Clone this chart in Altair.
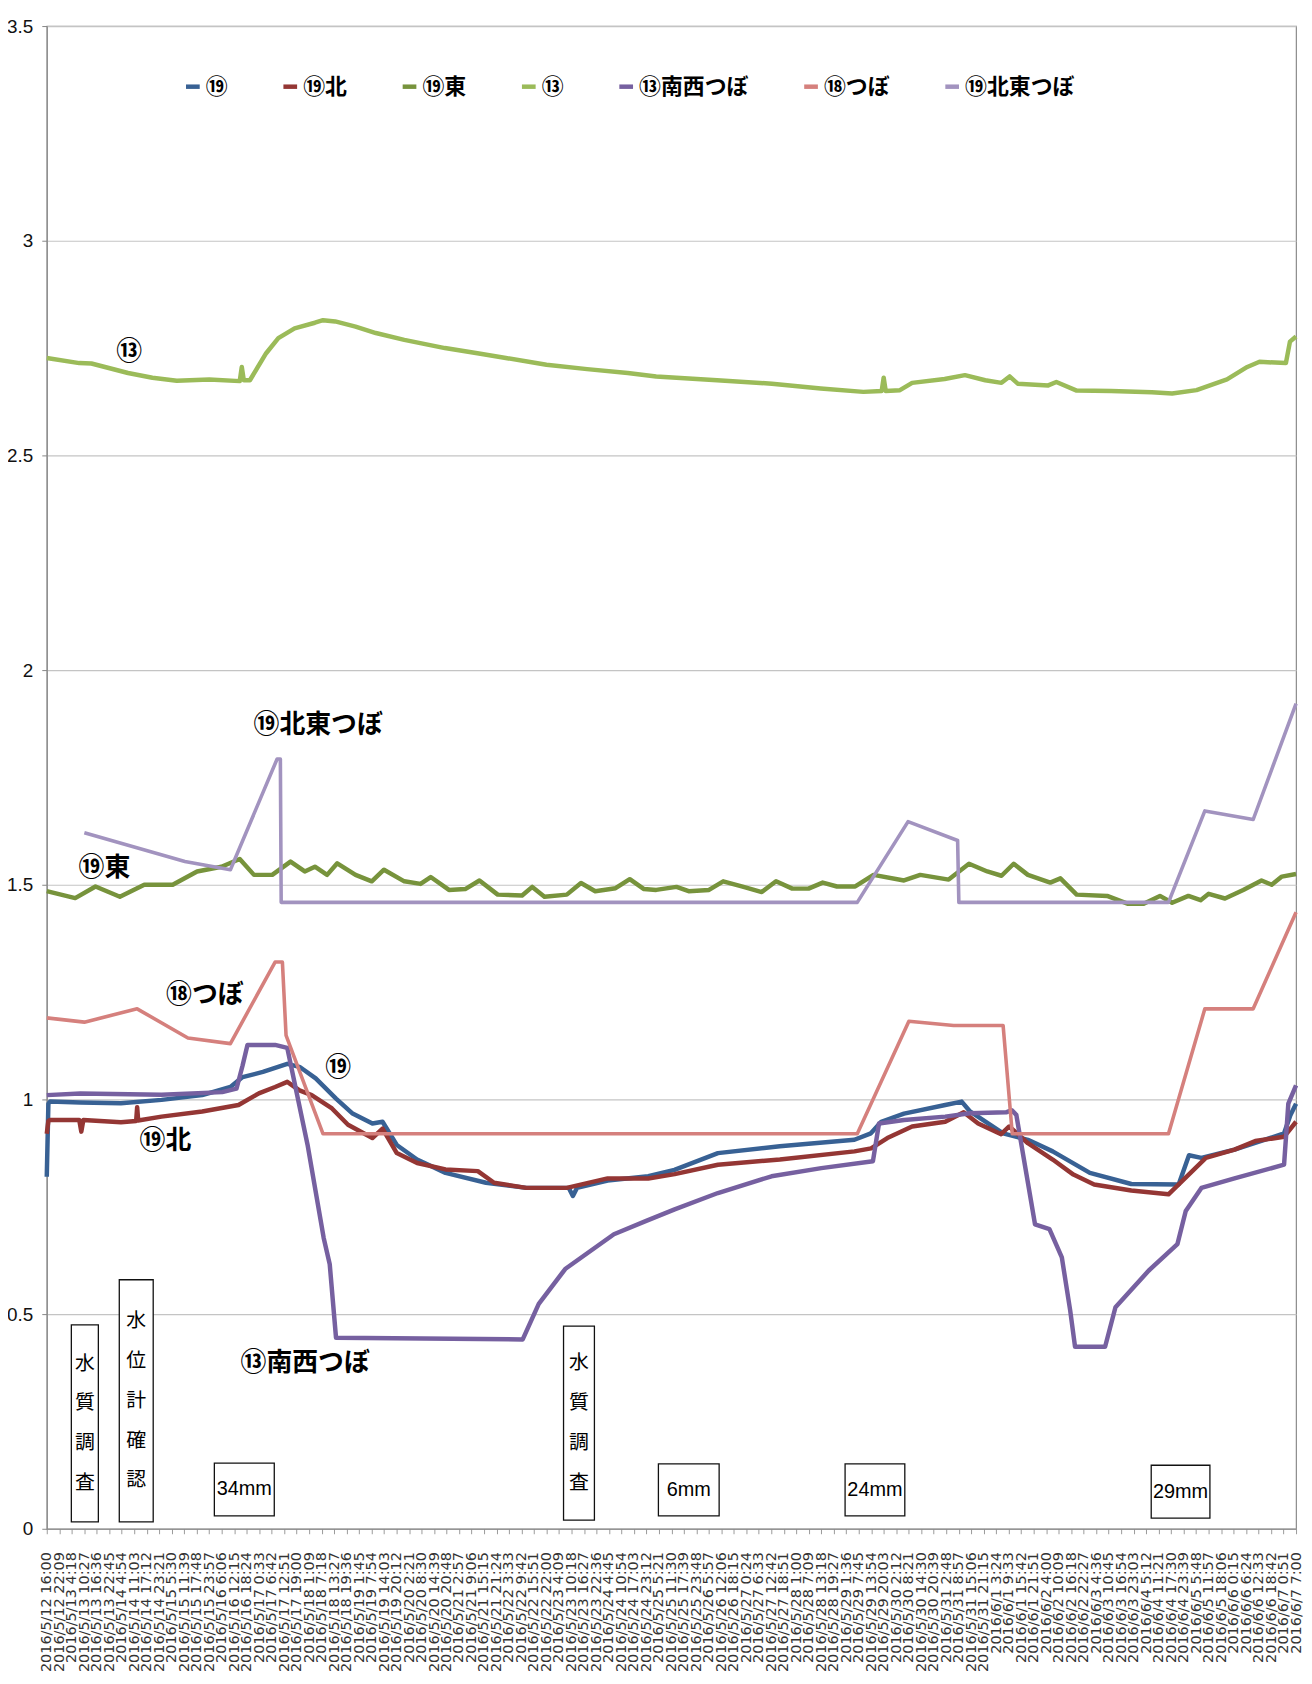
import altair as alt
import pandas as pd

# ---------------- time axis ----------------
START = "2016-05-12 16:00"      # first category label
END_HOURS = 615                 # 2016/6/7 7:00
TICK_STEP_MIN = 369             # labels every 6:09
TICK_COUNT = 101

SERIES = ["⑲", "⑲北", "⑲東", "⑬", "⑬南西つぼ", "⑱つぼ", "⑲北東つぼ"]
COLORS = ["#386194", "#943634", "#77933C", "#9BBB59", "#7660A0", "#D5807D", "#A293BF"]

# (hours since 2016/5/12 16:00, level)
S19 = [(0, 0.82), (0.8, 0.99), (1.6, 0.995), (16.5, 0.993), (36.5, 0.991), (56.5, 0.999),
       (76.5, 1.010), (90.4, 1.029), (96.4, 1.052), (106.4, 1.064), (118.4, 1.083),
       (124.4, 1.076), (132.4, 1.049), (142.4, 1.002), (150.3, 0.968), (160.3, 0.944),
       (165.3, 0.948), (172.3, 0.894), (182.3, 0.860), (196.3, 0.829), (216.2, 0.806),
       (236.2, 0.794), (257, 0.794), (259, 0.775), (261, 0.794), (276.1, 0.811),
       (296.1, 0.821), (309, 0.836), (330.4, 0.875), (360.9, 0.891), (397.6, 0.906),
       (405.7, 0.921), (410.8, 0.948), (422, 0.967), (442.3, 0.987), (450.4, 0.995),
       (454.5, 0.972), (470.8, 0.921), (483, 0.906), (495.2, 0.879), (513.5, 0.829),
       (533.9, 0.803), (557.2, 0.802), (562.3, 0.870), (568.4, 0.864), (584.7, 0.883),
       (609.1, 0.921), (612.2, 0.963), (615, 0.99)]

S19N = [(0, 0.92), (0.8, 0.95), (1.6, 0.952), (16, 0.952), (17, 0.925), (18, 0.952),
        (36.5, 0.947), (44, 0.950), (44.5, 0.982), (45, 0.951), (56.5, 0.960), (76.5, 0.972),
        (94.4, 0.987), (104.4, 1.014), (112.4, 1.029), (118.4, 1.041), (124.4, 1.021),
        (130.4, 1.010), (140.4, 0.979), (148.3, 0.941), (160.3, 0.910), (165.3, 0.932),
        (172.3, 0.875), (182.3, 0.852), (196.3, 0.837), (212.2, 0.833), (220.2, 0.806),
        (236, 0.794), (256, 0.794), (276.1, 0.816), (296.1, 0.816), (309.1, 0.826),
        (330.4, 0.848), (360.9, 0.860), (397.6, 0.879), (405.8, 0.886), (413.8, 0.910),
        (426, 0.937), (442.3, 0.948), (451.4, 0.970), (458.5, 0.944), (469.8, 0.919),
        (473.8, 0.937), (483, 0.898), (495.2, 0.860), (505.4, 0.825), (515.6, 0.802),
        (533.9, 0.788), (552.2, 0.779), (570.6, 0.864), (584.7, 0.883), (594.9, 0.903),
        (609.1, 0.913), (615, 0.948)]

S19E = [(0, 1.485), (14, 1.469), (24, 1.496), (36, 1.472), (48, 1.500), (62, 1.500),
        (74, 1.531), (86, 1.542), (95, 1.560), (102, 1.523), (111, 1.523), (120, 1.554),
        (127, 1.531), (132, 1.542), (138, 1.523), (143, 1.550), (152, 1.523), (160, 1.508),
        (166, 1.535), (176, 1.508), (184, 1.502), (189, 1.518), (198, 1.488), (206, 1.490),
        (213, 1.510), (222, 1.477), (234, 1.475), (239, 1.495), (245, 1.472), (256, 1.477),
        (263, 1.504), (270, 1.485), (280, 1.492), (287, 1.513), (294, 1.490), (300, 1.488),
        (310, 1.495), (316, 1.485), (326, 1.488), (333, 1.508), (343, 1.495), (352, 1.483),
        (359, 1.508), (367, 1.491), (375, 1.491), (382, 1.505), (389, 1.496), (398, 1.496),
        (407, 1.523), (422, 1.510), (430, 1.523), (444, 1.512), (454, 1.549), (463, 1.531),
        (470, 1.521), (476, 1.549), (483, 1.523), (494, 1.505), (499, 1.515), (507, 1.477),
        (522, 1.474), (532, 1.456), (540, 1.456), (548, 1.474), (554, 1.458), (562, 1.474),
        (568, 1.464), (572, 1.479), (580, 1.468), (589, 1.488), (598, 1.510), (603, 1.500),
        (608, 1.519), (615, 1.525)]

S13 = [(0, 2.727), (16, 2.715), (22, 2.714), (40, 2.692), (52, 2.681), (64, 2.674),
       (80, 2.677), (95, 2.673), (96, 2.706), (97, 2.675), (100, 2.675), (108, 2.738),
       (114, 2.773), (122, 2.796), (132, 2.809), (136, 2.815), (142, 2.812), (152, 2.800),
       (162, 2.785), (176, 2.769), (196, 2.750), (212, 2.738), (226, 2.727), (246, 2.711),
       (266, 2.701), (286, 2.692), (300, 2.684), (330, 2.675), (357, 2.667), (381, 2.656),
       (402, 2.648), (411, 2.650), (412, 2.681), (413, 2.650), (420, 2.652), (426, 2.669),
       (442, 2.678), (452, 2.687), (462, 2.675), (470, 2.669), (474, 2.684), (478, 2.667),
       (493, 2.663), (497, 2.671), (507, 2.651), (524, 2.650), (544, 2.647), (554, 2.644),
       (566, 2.652), (581, 2.677), (591, 2.706), (597, 2.718), (610, 2.715), (612, 2.765),
       (615, 2.777)]

S13SW = [(0, 1.010), (16.5, 1.014), (56.5, 1.011), (86.4, 1.017), (93.4, 1.025),
         (96.4, 1.079), (98.8, 1.127), (112.4, 1.127), (118.4, 1.120), (128.4, 0.894),
         (136.3, 0.678), (139.3, 0.616), (142.4, 0.445), (234.3, 0.441), (242.2, 0.524),
         (255.2, 0.605), (279.2, 0.686), (295.1, 0.717), (309.1, 0.744), (330.4, 0.782),
         (356.8, 0.821), (381.3, 0.840), (406.7, 0.856), (409.7, 0.944), (422, 0.952),
         (442.3, 0.960), (454.5, 0.968), (472.3, 0.970), (475, 0.975), (477.3, 0.964),
         (486.5, 0.709), (493.6, 0.698), (499.7, 0.632), (503.8, 0.509), (506.2, 0.424),
         (521, 0.424), (526.1, 0.516), (542.4, 0.601), (556.6, 0.663), (560.7, 0.740),
         (568.4, 0.794), (584.7, 0.816), (609.1, 0.848), (611.2, 0.990), (615, 1.033)]

S18T = [(0, 1.190), (18.5, 1.180), (44.5, 1.211), (69.5, 1.143), (90.4, 1.130),
        (112.4, 1.320), (116, 1.320), (117.8, 1.149), (136, 0.920), (399, 0.920),
        (424.4, 1.182), (446.4, 1.172), (470.8, 1.172), (475.3, 0.920), (552.2, 0.920),
        (570.1, 1.211), (593.9, 1.211), (615, 1.436)]

S19NE = [(18.5, 1.621), (68, 1.554), (90.4, 1.535), (113.4, 1.793), (115, 1.793),
         (115.4, 1.459), (399, 1.459), (424, 1.647), (448.4, 1.603), (449, 1.459),
         (552.2, 1.459), (570.1, 1.672), (593.9, 1.652), (615, 1.922)]

# in-plot series labels: (hours, level, text)
LABELS = [(40.6, 2.741, "⑬"), (28.4, 1.540, "⑲東"), (133.6, 1.871, "⑲北東つぼ"),
          (77.8, 1.243, "⑱つぼ"), (143.5, 1.074, "⑲"), (58.4, 0.902, "⑲北"),
          (127.2, 0.385, "⑬南西つぼ")]

# event boxes: (hours from, hours to, level low, level high, text)
BOXES = [(12.1, 25.4, 0.016, 0.475, "水\n質\n調\n査"),
         (35.7, 52.4, 0.016, 0.580, "水\n位\n計\n確\n認"),
         (82.5, 112.0, 0.030, 0.153, "34mm"),
         (254.4, 269.6, 0.020, 0.472, "水\n質\n調\n査"),
         (301.1, 331.0, 0.030, 0.151, "6mm"),
         (393.0, 422.4, 0.030, 0.151, "24mm"),
         (543.7, 572.6, 0.025, 0.148, "29mm")]

# ---------------- build tables ----------------
START_MS = int(pd.Timestamp(START, tz="UTC").value // 10**6)
HOUR_MS = 3600 * 1000


def ms(h):
    return START_MS + h * HOUR_MS


tick_values = [START_MS + i * TICK_STEP_MIN * 60 * 1000 for i in range(TICK_COUNT)]

dense = {"⑲": S19, "⑲北": S19N, "⑲東": S19E, "⑬": S13, "⑬南西つぼ": S13SW}
sparse = {"⑱つぼ": S18T, "⑲北東つぼ": S19NE}


def table(d):
    rows = []
    for name, pts in d.items():
        for h, v in pts:
            rows.append({"t": ms(h), "v": v, "s": name})
    return pd.DataFrame(rows)


df_dense = table(dense)
df_sparse = table(sparse)
df_labels = pd.DataFrame([{"t": ms(h), "v": v, "txt": t} for h, v, t in LABELS])
df_boxes = pd.DataFrame([{"t1": ms(a), "t2": ms(b), "v1": lo, "v2": hi,
                          "tm": ms((a + b) / 2), "vm": (lo + hi) / 2, "txt": t,
                          "n": t.count("\n") + 1} for a, b, lo, hi, t in BOXES])

x_scale = alt.Scale(type="utc", domain=[START_MS, ms(END_HOURS)], nice=False)
y_scale = alt.Scale(domain=[0, 3.5], nice=False)
color_scale = alt.Scale(domain=SERIES, range=COLORS)

x_axis = alt.Axis(values=tick_values, tickCount=TICK_COUNT,
                  labelExpr="utcFormat(datum.value, '%Y/%-m/%-d %-H:%M')",
                  labelAngle=-90, labelFont="DejaVu Sans", labelFontSize=14.5,
                  labelColor="#333333", labelPadding=18, labelOverlap=False,
                  labelFlush=False, labelBound=False, grid=False, title=None,
                  domainColor="#868686", tickColor="#9A9A9A", tickSize=5)
y_axis = alt.Axis(values=[0, 0.5, 1, 1.5, 2, 2.5, 3, 3.5], tickCount=8, format="~g",
                  labelFont="Liberation Sans", labelFontSize=19,
                  labelColor="#111111", labelPadding=9, grid=True,
                  gridColor="#C4C4C4", gridWidth=1.2, title=None,
                  domainColor="#868686", tickColor="#868686", tickSize=5)

legend = alt.Legend(orient="none", legendX=136, legendY=50, direction="horizontal",
                    columns=7, title=None, symbolType="stroke", symbolSize=190,
                    symbolStrokeWidth=4.5, labelFont="Noto Sans CJK JP",
                    labelFontSize=22, labelFontWeight="bold", labelColor="#000000",
                    columnPadding=46, labelOffset=2, padding=0, labelLimit=300)

X = alt.X("t:T", scale=x_scale, axis=x_axis)
Y = alt.Y("v:Q", scale=y_scale, axis=y_axis)

lines_dense = alt.Chart(df_dense).mark_line(strokeWidth=4.5, strokeJoin="round").encode(
    x=X, y=Y, color=alt.Color("s:N", scale=color_scale, legend=legend, sort=SERIES))
lines_sparse = alt.Chart(df_sparse).mark_line(strokeWidth=3.6, strokeJoin="round").encode(
    x=X, y=Y, color=alt.Color("s:N", scale=color_scale, legend=legend, sort=SERIES))

boxes = alt.Chart(df_boxes).mark_rect(fill="white", stroke="#111111", strokeWidth=1.3).encode(
    x=alt.X("t1:T", scale=x_scale), x2="t2:T",
    y=alt.Y("v1:Q", scale=y_scale), y2="v2:Q")


def vertical_text(n):
    # multi-line vertical text, block centred on the box
    return alt.Chart(df_boxes).transform_filter(f"datum.n == {n}").mark_text(
        font="Noto Sans CJK JP", fontSize=20, lineHeight=40, lineBreak="\n",
        align="center", baseline="middle", dy=-(n - 1) * 20, color="#000000").encode(
        x=alt.X("tm:T", scale=x_scale), y=alt.Y("vm:Q", scale=y_scale), text="txt:N")


box_text_h = alt.Chart(df_boxes).transform_filter("datum.n == 1").mark_text(
    font="Liberation Sans", fontSize=20, align="center", baseline="middle",
    color="#000000").encode(
    x=alt.X("tm:T", scale=x_scale), y=alt.Y("vm:Q", scale=y_scale), text="txt:N")

labels = alt.Chart(df_labels).mark_text(
    font="Noto Sans CJK JP", fontSize=26, fontWeight="bold", align="center",
    baseline="middle", color="#000000").encode(
    x=alt.X("t:T", scale=x_scale), y=alt.Y("v:Q", scale=y_scale), text="txt:N")

chart = alt.layer(lines_dense, lines_sparse, boxes, vertical_text(4), vertical_text(5),
                  box_text_h, labels).properties(
    width=1257, height=1512,
    autosize=alt.AutoSizeParams(type="none"),
    padding={"left": 39, "top": 13, "right": 8, "bottom": 150},
).configure_view(stroke="#8A8A8A", strokeWidth=1.2)

chart.save("out.html", embed_options={"renderer": "svg", "actions": False})
